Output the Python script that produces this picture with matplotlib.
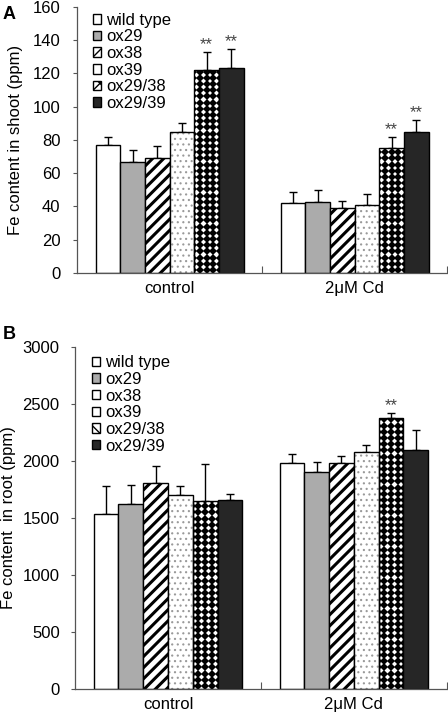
import numpy as np
import matplotlib
matplotlib.use('Agg')
import matplotlib.pyplot as plt
from matplotlib.patches import Patch

plt.rcParams['font.family'] = ['Liberation Sans', 'DejaVu Sans']
plt.rcParams['font.size'] = 12

# genotypes and treatments
genotypes = ['wild type', 'ox29', 'ox38', 'ox39', 'ox29/38', 'ox29/39']
treatments = ['control', '2\u03bcM Cd']

# Fe content in shoot (ppm): rows = treatment, cols = genotype
shoot_mean = [[77, 67, 69, 85, 122, 123],
              [42, 43, 39, 41, 75, 85]]
shoot_err = [[5, 7, 7.5, 5.5, 11, 11.5],
             [6.5, 7, 4.5, 6.5, 6.5, 7]]
shoot_sig = [[0, 0, 0, 0, 1, 1],
             [0, 0, 0, 0, 1, 1]]

# Fe content in root (ppm)
root_mean = [[1535, 1625, 1805, 1705, 1645, 1655],
             [1985, 1900, 1985, 2075, 2380, 2100]]
root_err = [[250, 165, 155, 75, 325, 55],
            [75, 95, 60, 65, 40, 175]]
root_sig = [[0, 0, 0, 0, 0, 0],
            [0, 0, 0, 0, 1, 0]]

gray = '#ababab'
dark = '#262626'


def draw_panel(ax, means, errs, sig, ylim, yticks, ylabel, ypad):
    means = np.array(means, dtype=float)
    errs = np.array(errs, dtype=float)
    x = np.arange(len(treatments))
    w = 0.8 / len(genotypes)
    ax.set_xlim(-0.5, 1.5)
    ax.set_ylim(*ylim)
    for j, g in enumerate(genotypes):
        xs = x - 0.4 + w * (j + 0.5)
        h = means[:, j]
        if j == 0:
            bars = ax.bar(xs, h, w, color='white', edgecolor='black', lw=1.0, zorder=2)
        elif j == 1:
            bars = ax.bar(xs, h, w, color=gray, edgecolor='black', lw=1.0, zorder=2)
        elif j == 2:
            with plt.rc_context({'hatch.linewidth': 2.2}):
                bars = ax.bar(xs, h, w, color='white', edgecolor='black', lw=1.0,
                              hatch='///', zorder=2)
        elif j == 3:
            with plt.rc_context({'hatch.linewidth': 0.8}):
                ax.bar(xs, h, w, color='white', edgecolor='#9a9a9a', lw=0,
                       hatch='...', zorder=2)
            bars = ax.bar(xs, h, w, fill=False, edgecolor='black', lw=1.0, zorder=3)
        elif j == 4:
            bars = ax.bar(xs, h, w, color='white', edgecolor='black', lw=1.0, zorder=2)
            # black diamond pattern, laid out in pixel steps inside each bar
            inv = ax.transData.inverted()
            for b in bars:
                (x0, y0), (x1, y1) = ax.transData.transform(
                    [(b.get_x(), b.get_y()), (b.get_x() + b.get_width(), b.get_height())])
                cx = (x0 + x1) / 2
                cols = cx + 6.7 * np.arange(-2, 3)
                rows = np.arange(y0 + 3, y1 + 3, 6.2)
                px, py = np.meshgrid(cols, rows)
                pts = inv.transform(np.column_stack([px.ravel(), py.ravel()]))
                ln, = ax.plot(pts[:, 0], pts[:, 1], 'D', color='black', ms=3.6,
                              mew=0, zorder=2.5)
                ln.set_clip_path(b)
        else:
            bars = ax.bar(xs, h, w, color=dark, edgecolor='black', lw=1.0, zorder=2)
        ax.errorbar(xs, h, yerr=[np.zeros_like(h), errs[:, j]], fmt='none',
                    ecolor='black', elinewidth=1.0, capsize=3, capthick=1.0, zorder=1)
        for i in range(len(treatments)):
            if sig[i][j]:
                ax.annotate('**', (xs[i], h[i] + errs[i, j]), xytext=(0, 0),
                            textcoords='offset points', ha='center', va='bottom',
                            fontsize=12, color='#444444')

    ax.spines['top'].set_visible(False)
    ax.spines['right'].set_visible(False)
    for s in ('left', 'bottom'):
        ax.spines[s].set_color('#555555')
        ax.spines[s].set_linewidth(0.9)
    ax.set_yticks(yticks)
    ax.tick_params(axis='y', direction='out', length=3, color='#555555', labelsize=12, pad=ypad)
    ax.set_xticks([0.5, 1.5])
    ax.set_xticklabels(['', ''])
    ax.tick_params(axis='x', direction='in', length=5, color='#555555')
    ax.set_xticks(x, minor=True)
    ax.set_xticklabels(treatments, minor=True, fontsize=12)
    ax.tick_params(axis='x', which='minor', length=0, pad=6)
    ax.set_ylabel(ylabel, fontsize=12)

    handles = [
        Patch(facecolor='white', edgecolor='black', lw=1.0),
        Patch(facecolor=gray, edgecolor='black', lw=1.0),
        Patch(facecolor='white', edgecolor='black', lw=1.0, hatch='//'),
        Patch(facecolor='white', edgecolor='black', lw=1.0),
        Patch(facecolor='white', edgecolor='black', lw=1.0, hatch='xx'),
        Patch(facecolor=dark, edgecolor='black', lw=1.0),
    ]
    return handles


legend_kw = dict(loc='upper left', frameon=False, fontsize=12, handlelength=0.5,
                 handleheight=0.5, handletextpad=0.3, labelspacing=0.1,
                 borderpad=0, borderaxespad=0)

fig = plt.figure(figsize=(4.48, 7.19), dpi=100)

axA = fig.add_axes([0.1719, 0.6203, 0.826, 0.370])
hA = draw_panel(axA, shoot_mean, shoot_err, shoot_sig, (0, 160), range(0, 161, 20),
                'Fe content in shoot (ppm)', 9)
axA.yaxis.set_label_coords(-0.146, 0.5)
axA.legend(hA, genotypes, bbox_to_anchor=(0.043, 0.978), **legend_kw)

axB = fig.add_axes([0.1674, 0.0417, 0.830, 0.4757])
hB = draw_panel(axB, root_mean, root_err, root_sig, (0, 3000), range(0, 3001, 500),
                'Fe content  in root (ppm)', 8)
axB.yaxis.set_label_coords(-0.158, 0.5)
axB.legend(hB, genotypes, bbox_to_anchor=(0.046, 0.976), **legend_kw)

fig.text(0.006, 0.992, 'A', fontsize=13, fontweight='bold', va='top')
fig.text(0.006, 0.546, 'B', fontsize=13, fontweight='bold', va='top')

fig.savefig('out.png', dpi=100)
